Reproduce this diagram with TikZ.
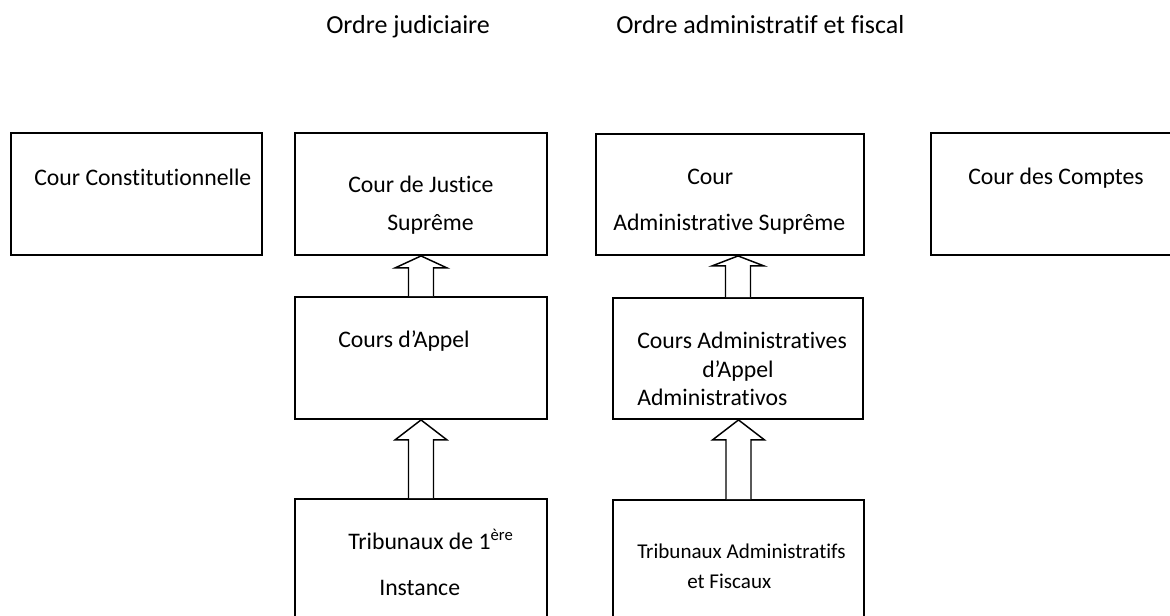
\documentclass[tikz,border=0pt]{standalone}
\usepackage{fontspec}
\setmainfont{Carlito}[Ligatures={NoCommon,NoRare}]
\usetikzlibrary{fit,calc}

% hollow arrow going up from #1 to #2, head length #3
\newcommand{\blockup}[3]{%
  \coordinate (#1-tip) at (#1.north |- #2.south);
  \draw[blockarr] ($(#1.north)+(-12.5,0)$) -- ($(#1-tip)+(-12.5,#3)$)
    -- ($(#1-tip)+(-26,#3)$) -- (#1-tip) -- ($(#1-tip)+(26,#3)$)
    -- ($(#1-tip)+(12.5,#3)$) -- ($(#1.north)+(12.5,0)$);}

\begin{document}
\begin{tikzpicture}[x=0.75pt, y=-0.75pt,
    court/.style={draw, line width=1.4pt, inner sep=0pt},
    lbl/.style={anchor=base west, inner sep=0pt, font=\fontsize{17.8}{21}\selectfont},
    lblsmall/.style={lbl, font=\fontsize{15.8}{19}\selectfont},
    heading/.style={lbl, font=\fontsize{19.5}{23}\selectfont},
    blockarr/.style={draw, line width=1.1pt, fill=white}]
    \useasboundingbox (0,0) rectangle (1170,615);

    % Headings
    \node[heading] (hj) at (326,33) {Ordre judiciaire};
    \node[heading] (ha) at (616,33) {Ordre administratif et fiscal};

    % Top row of courts
    \node[court, fit={(11,133) (262,255)}] (cc) {};
    \node[court, fit={(295,133) (547,255)}] (cjs) {};
    \node[court, fit={(596,134) (864,255)}] (cas) {};
    \node[court, fit={(931,133) (1185,255)}] (cdc) {};

    % Middle row
    \node[court, fit={(295,297) (547,419)}] (ca) {};
    \node[court, fit={(613,298) (863,419)}] (caa) {};

    % Bottom row (runs off the page)
    \node[court, fit={(295,499) (547,640)}] (tpi) {};
    \node[court, fit={(613,500) (864,640)}] (taf) {};

    % Court names
    \node[lbl] (cc-t) at (34,185) {Cour Constitutionnelle};
    \node[lbl] (cjs-t1) at (348,192) {Cour de Justice};
    \node[lbl] (cjs-t2) at (387,230) {Suprême};
    \node[lbl] (cas-t1) at (687,184) {Cour};
    \node[lbl] (cas-t2) at (613,230) {Administrative Suprême};
    \node[lbl] (cdc-t) at (968,184) {Cour des Comptes};
    \node[lbl] (ca-t) at (338,347) {Cours d’Appel};
    \node[lbl] (caa-t1) at (637,348) {Cours Administratives};
    \node[lbl] (caa-t2) at (702,377) {d’Appel};
    \node[lbl] (caa-t3) at (637,405) {Administrativos};
    \node[lbl] (tpi-t1) at (348,549) {Tribunaux de 1\textsuperscript{ère}};
    \node[lbl] (tpi-t2) at (379,595) {Instance};
    \node[lblsmall] (taf-t1) at (637,558) {Tribunaux Administratifs};
    \node[lblsmall] (taf-t2) at (687,588) {et Fiscaux};

    % Appeal arrows
    \blockup{ca}{cjs}{12}
    \blockup{tpi}{ca}{20}
    \blockup{caa}{cas}{10}
    \blockup{taf}{caa}{20}
\end{tikzpicture}
\end{document}
